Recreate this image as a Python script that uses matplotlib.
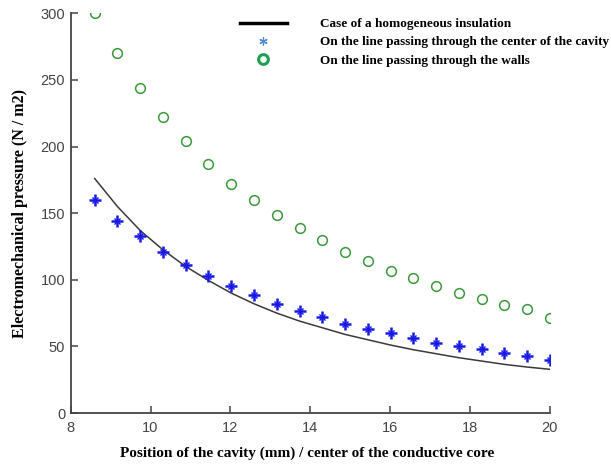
import matplotlib
matplotlib.use("Agg")
import matplotlib.pyplot as plt
from matplotlib.lines import Line2D

# Data
x_pos = [8.6, 9.17, 9.74, 10.31, 10.88, 11.45, 12.02, 12.59, 13.16, 13.73, 14.3,
         14.87, 15.44, 16.01, 16.58, 17.15, 17.72, 18.29, 18.86, 19.43, 20.0]
homogeneous = [176, 155, 137, 122.5, 110, 99.5, 90, 82, 75, 69, 64,
               59, 55, 51, 47.5, 44.5, 41.5, 39, 36.5, 34.5, 32.8]
center_line = [159.6, 144.4, 132.6, 120.5, 111.3, 102.5, 95, 88.2, 82, 76.7, 72,
               66.9, 63.4, 59.9, 56.6, 52.9, 50.2, 48.1, 45.1, 43.1, 40.1]
walls_line = [300, 270, 244, 222, 203.8, 187, 172, 159.6, 148.3, 138.6, 129.5,
              120.8, 113.8, 106.8, 101.3, 95, 90.2, 85.2, 81, 77.7, 71.4]
legend_labels = ["Case of a homogeneous insulation",
                 "On the line passing through the center of the cavity",
                 "On the line passing through the walls"]
x_ticks = [8, 10, 12, 14, 16, 18, 20]
y_ticks = [0, 50, 100, 150, 200, 250, 300]

fig = plt.figure(figsize=(6.11, 4.66), dpi=100)
ax = fig.add_axes([0.1157, 0.1137, 0.7843, 0.8578])

star_col = "#1818e6"
ax.plot(x_pos, homogeneous, color="#3a3a3a", lw=1.1)
ax.plot(x_pos, center_line, ls="none", marker="+", ms=8, mew=1.8,
        color=star_col)
ax.plot(x_pos, center_line, ls="none", marker="x", ms=5, mew=1.0,
        color=star_col)
ax.plot(x_pos, walls_line, ls="none", marker="o", ms=7, mfc="none", mew=1.1,
        color="#3a9a3a")

ax.set_xlim(8, 20)
ax.set_ylim(0, 300)
ax.set_xticks(x_ticks)
ax.set_yticks(y_ticks)
for s in ["top", "right"]:
    ax.spines[s].set_visible(False)
for s in ["left", "bottom"]:
    ax.spines[s].set_color("#444444")
    ax.spines[s].set_linewidth(1.3)
ax.tick_params(direction="in", length=5, width=1.1, color="#444444",
               labelsize=10.5, labelcolor="#444444")
ax.tick_params(axis="x", pad=5.5)
ax.tick_params(axis="y", pad=4)
for lab in ax.get_xticklabels() + ax.get_yticklabels():
    lab.set_family("Liberation Sans")

serif = {"family": "Liberation Serif", "weight": "bold"}
ax.set_xlabel("Position of the cavity (mm) / center of the conductive core",
              fontdict=serif, fontsize=11, va="center")
ax.xaxis.set_label_coords(0.493, -0.10)
ax.set_ylabel("Electromechanical pressure (N / m2)", fontdict=serif,
              fontsize=11.5, va="center")
ax.yaxis.set_label_coords(-0.106, 0.5)

handles = [Line2D([], [], color="black", lw=2.5),
           Line2D([], [], ls="none", marker=(6, 2, 0), ms=6, mew=0.9,
                  color="#4a8fd0"),
           Line2D([], [], ls="none", marker="o", ms=7, mfc="none", mew=2.2,
                  color="#1fa050")]
leg = fig.legend(handles, legend_labels, loc="upper left",
                 bbox_to_anchor=(240 / 611, 1 - 18 / 466), frameon=False,
                 borderpad=0, borderaxespad=0,
                 handlelength=3.55, handletextpad=2.5, labelspacing=0.45,
                 prop={"family": "Liberation Serif", "weight": "bold",
                       "size": 9.5})

fig.savefig("out.png", dpi=100)
